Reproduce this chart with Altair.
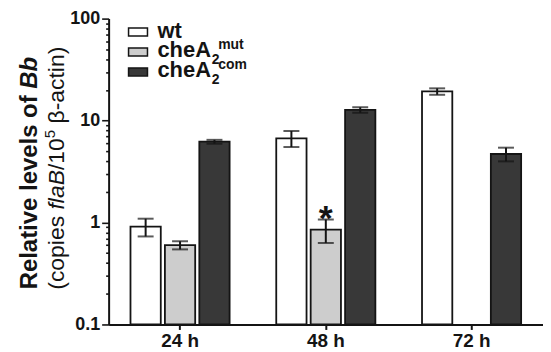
import altair as alt
import pandas as pd

FONT = "Liberation Sans, Arial, Helvetica, sans-serif"
INK = "#141414"

# ---- data ----
TIMES = ["24 h", "48 h", "72 h"]
STRAINS = ["wt", "cheA2mut", "cheA2com"]
BAR_TIME = ["24 h", "24 h", "24 h", "48 h", "48 h", "48 h", "72 h", "72 h"]
BAR_STRAIN = ["wt", "cheA2mut", "cheA2com", "wt", "cheA2mut", "cheA2com", "wt", "cheA2com"]
MEAN = [0.91, 0.60, 6.2, 6.7, 0.85, 12.7, 19.3, 4.7]
ERR = [0.18, 0.055, 0.27, 1.2, 0.22, 0.8, 1.4, 0.72]
SIG = ["", "", "", "", "*", "", "", ""]
FILLS = ["#ffffff", "#cdcdcd", "#383838"]
Y_DOMAIN = [0.1, 100]
Y_TICKS = [round(m * 10 ** e, 1) for e in (-1, 0, 1) for m in range(1, 10)] + [100]
LEGEND_BASE = ["wt", "cheA", "cheA"]
LEGEND_SUB = ["", "2", "2"]
LEGEND_SUP = ["", "mut", "com"]

df = pd.DataFrame({"time": BAR_TIME, "strain": BAR_STRAIN, "mean": MEAN, "err": ERR, "sig": SIG})
df["lo"] = df["mean"] - df["err"]
df["hi"] = df["mean"] + df["err"]

W, H = 436, 307

is_major = "abs(log(datum.value)/LN10 - round(log(datum.value)/LN10)) < 0.001"

x_enc = alt.X(
    "time:N",
    sort=TIMES,
    scale=alt.Scale(domain=TIMES, paddingInner=0.32, paddingOuter=0.15),
    axis=alt.Axis(
        title=None, labelAngle=0, labelFont=FONT, labelFontSize=19, labelFontWeight="bold",
        labelColor=INK, domainColor=INK, domainWidth=2, tickColor=INK, tickWidth=2,
        tickSize=5, labelPadding=2,
    ),
)
xo_enc = alt.XOffset("strain:N", scale=alt.Scale(domain=STRAINS, paddingInner=0.12))
y_scale = alt.Scale(type="log", domain=Y_DOMAIN, nice=False)
y_axis = alt.Axis(
    title=None, values=Y_TICKS, format="~g",
    labelExpr=f"({is_major}) ? datum.label : ''",
    labelFont=FONT, labelFontSize=18, labelFontWeight="bold", labelColor=INK,
    labelFlush=False, labelOverlap=False, labelPadding=2,
    domainColor=INK, domainWidth=2, tickColor=INK, tickWidth=1.6,
    tickSize={"condition": {"test": is_major, "value": 7}, "value": 3},
    grid=False,
)

bars = alt.Chart(df).mark_bar(stroke=INK, strokeWidth=1.8).encode(
    x=x_enc,
    xOffset=xo_enc,
    y=alt.Y("mean:Q", scale=y_scale, axis=y_axis),
    y2=alt.datum(Y_DOMAIN[0]),
    fill=alt.Fill("strain:N", scale=alt.Scale(domain=STRAINS, range=FILLS), legend=None),
)

rules = alt.Chart(df).mark_rule(color=INK, strokeWidth=2).encode(
    x=alt.X("time:N", sort=TIMES), xOffset=alt.XOffset("strain:N"),
    y=alt.Y("lo:Q"), y2="hi:Q",
)
cap_hi = alt.Chart(df).mark_tick(color=INK, orient="horizontal", size=16, thickness=2).encode(
    x=alt.X("time:N", sort=TIMES), xOffset=alt.XOffset("strain:N"), y=alt.Y("hi:Q"),
)
cap_lo = alt.Chart(df).mark_tick(color=INK, orient="horizontal", size=16, thickness=2).encode(
    x=alt.X("time:N", sort=TIMES), xOffset=alt.XOffset("strain:N"), y=alt.Y("lo:Q"),
)
star = alt.Chart(df).transform_filter("datum.sig != ''").mark_text(
    font=FONT, fontSize=36, fontWeight="bold", color=INK, dy=11, baseline="alphabetic",
).encode(
    x=alt.X("time:N", sort=TIMES), xOffset=alt.XOffset("strain:N"), y=alt.Y("hi:Q"), text="sig:N",
)


def txt(s, x, y, size, weight="normal", style="normal", align="left", angle=0, dx=0, dy=0):
    return alt.Chart(pd.DataFrame({"t": [s]})).mark_text(
        font=FONT, fontSize=size, fontWeight=weight, fontStyle=style, align=align,
        baseline="alphabetic", angle=angle, dx=dx, dy=dy, color=INK,
    ).encode(x=alt.value(x), y=alt.value(y), text="t:N")


extra = []
# y-axis title, line 1 (bold, "Bb" italic); angle 270 -> dx runs along the text
J1 = 77
extra.append(txt("Relative levels of", -72, J1, 24, "bold", align="right", angle=270))
extra.append(txt("Bb", -72, J1, 24, "bold", "italic", align="left", angle=270, dx=6.7))
# line 2
J2 = 198
extra.append(txt("(copies", -45, J2, 23, align="right", angle=270))
extra.append(txt("flaB", -45, J2, 23, style="italic", align="left", angle=270, dx=6.4))
extra.append(txt("/10", -45, J2, 23, align="left", angle=270, dx=46.0))
extra.append(txt("5", -45, J2, 15, align="left", angle=270, dx=78.0, dy=-9))
extra.append(txt("\u03b2-actin)", -45, J2, 23, align="left", angle=270, dx=92.7))

# legend
for i, (base, sub, sup, fill) in enumerate(zip(LEGEND_BASE, LEGEND_SUB, LEGEND_SUP, FILLS)):
    cy = 13.5 + 20 * i
    by = 19 + 20 * i
    box = alt.Chart(pd.DataFrame({"k": [base]})).mark_rect(
        fill=fill, stroke=INK, strokeWidth=1.5
    ).encode(x=alt.value(20), x2=alt.value(39), y=alt.value(cy - 4), y2=alt.value(cy + 4))
    extra.append(box)
    extra.append(txt(base, 49, by, 22, "bold"))
    if sub:
        extra.append(txt(sub, 103.5, by + 7, 14, "bold"))
    if sup:
        extra.append(txt(sup, 110, by - 8, 14, "bold"))

chart = alt.layer(bars, rules, cap_lo, cap_hi, star, *extra).properties(
    width=W, height=H,
    padding={"left": 101, "top": 10, "right": 0, "bottom": 30},
    autosize=alt.AutoSizeParams(type="none"),
    background="white",
).configure_view(stroke=None)

chart.save("out.html", embed_options={"renderer": "svg", "actions": False})
